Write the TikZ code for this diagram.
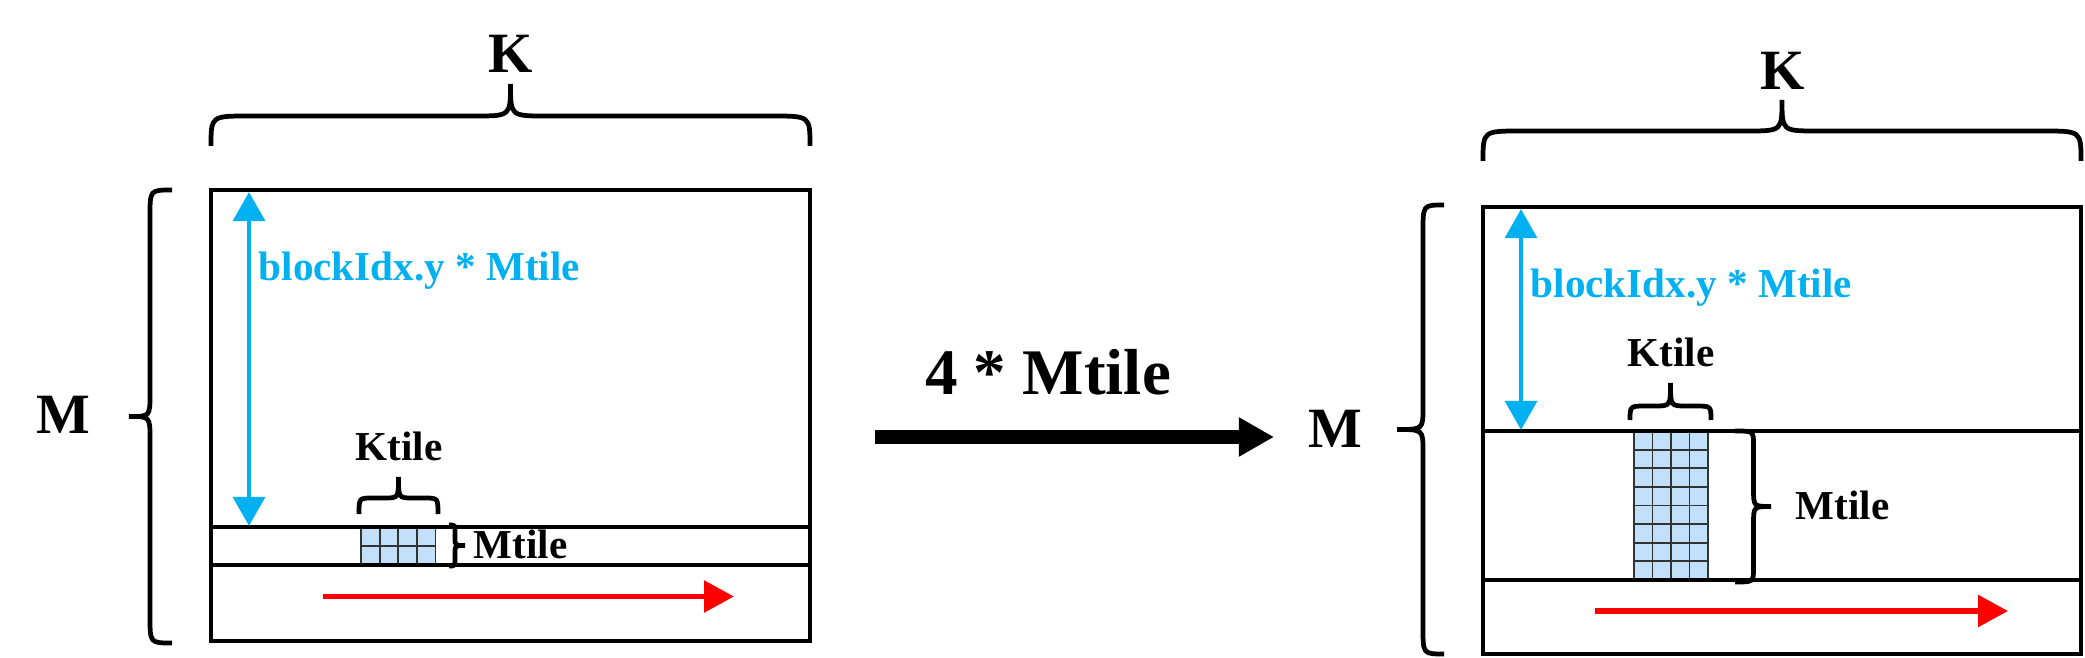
\documentclass[tikz,border=0pt]{standalone}
\usepackage{fontspec}
\setmainfont{Liberation Serif}
\usetikzlibrary{arrows.meta}
\definecolor{cblue}{RGB}{0,176,240}
\definecolor{cred}{RGB}{255,0,0}
\definecolor{tilefill}{RGB}{194,224,250}
\begin{document}
\begin{tikzpicture}[x=0.01cm,y=-0.01cm,
  frame/.style={draw=black,line width=1.35pt},
  brc/.style={draw=black,line width=1.35pt},
  gridln/.style={draw=black!80,line width=0.55pt},
  smalltxt/.style={inner sep=0pt,font=\fontsize{11.7}{14}\selectfont\bfseries},
  bigtxt/.style={inner sep=0pt,font=\fontsize{16.2}{19}\selectfont\bfseries},
  arrtxt/.style={inner sep=0pt,font=\fontsize{18.5}{22}\selectfont\bfseries},
  bluearr/.style={draw=cblue,line width=1.35pt,{Triangle[width=9pt,length=8.3pt]}-{Triangle[width=9pt,length=8.3pt]}},
  redarr/.style={draw=cred,line width=1.6pt,-{Triangle[width=8.8pt,length=8.5pt]}},
  bigarr/.style={draw=black,line width=3.7pt,-{Triangle[width=10.5pt,length=10pt]}}]
\useasboundingbox (0,0) rectangle (2085,658);

% ---------------- left matrix ----------------
\fill[tilefill] (361,528) rectangle (435.5,564);
\foreach \i in {0,...,4} \draw[gridln] ({361+\i*18.625},528) -- ({361+\i*18.625},564);
\foreach \j in {0,...,2} \draw[gridln] (361,{528+\j*18}) -- (435.5,{528+\j*18});
\draw[frame] (211,190) rectangle (810,641);
\draw[frame] (211,527) -- (810,527);
\draw[frame] (211,565) -- (810,565);

% K brace (left)
\draw[brc] (211,146) .. controls (211,116) .. (249,116) -- (475.5,116) .. controls (510.5,116) .. (510.5,84)
  .. controls (510.5,116) .. (545.5,116) -- (772,116) .. controls (810,116) .. (810,146);
\node[bigtxt,anchor=base] (kL) at (511,73) {K};

% M brace (left)
\draw[brc] (172,190) .. controls (150,190) .. (150,216) -- (150,394.5) .. controls (150,416.5) .. (129,416.5)
  .. controls (150,416.5) .. (150,438.5) -- (150,617) .. controls (150,643) .. (172,643);
\node[bigtxt,anchor=base] (mL) at (63.5,433) {M};

% blue arrow + label (left)
\coordinate (la1) at (249,192);
\coordinate (la2) at (249,526);
\draw[bluearr] (la1) -- (la2);
\node[smalltxt,text=cblue,anchor=base west] (bL) at (258,281) {blockIdx.y * Mtile};

% Ktile brace (left)
\draw[brc] (359,514) .. controls (359,498) .. (373,498) -- (384.5,498) .. controls (398.5,498) .. (398.5,477)
  .. controls (398.5,498) .. (412.5,498) -- (424,498) .. controls (438,498) .. (438,514);
\node[smalltxt,anchor=base] (ktL) at (399,461) {Ktile};

% Mtile brace (left)
\draw[brc] (449,525) .. controls (455,525) .. (455,533) -- (455,538) .. controls (455,545.5) .. (465,545.5)
  .. controls (455,545.5) .. (455,553) -- (455,558) .. controls (455,566) .. (449,566);
\node[smalltxt,anchor=base west] (mtL) at (473,558) {Mtile};

% red arrow (left)
\coordinate (ra1) at (323,596.5);
\coordinate (ra2) at (734,596.5);
\draw[redarr] (ra1) -- (ra2);

% ---------------- middle ----------------
\node[arrtxt,anchor=base] (mid) at (1048,395) {4 * Mtile};
\coordinate (ma1) at (875,437);
\coordinate (ma2) at (1274,437);
\draw[bigarr] (ma1) -- (ma2);

% ---------------- right matrix ----------------
\fill[tilefill] (1634,431) rectangle (1708,580);
\foreach \i in {0,...,4} \draw[gridln] ({1634+\i*18.5},431) -- ({1634+\i*18.5},580);
\foreach \j in {0,...,8} \draw[gridln] (1634,{431+\j*18.625}) -- (1708,{431+\j*18.625});
\draw[frame] (1483,207) rectangle (2081,654);
\draw[frame] (1483,431) -- (2081,431);
\draw[frame] (1483,580) -- (2081,580);

% K brace (right)
\draw[brc] (1483,161) .. controls (1483,131) .. (1521,131) -- (1747,131) .. controls (1782,131) .. (1782,100)
  .. controls (1782,131) .. (1817,131) -- (2043,131) .. controls (2081,131) .. (2081,161);
\node[bigtxt,anchor=base] (kR) at (1783,90) {K};

% M brace (right)
\draw[brc] (1444,205) .. controls (1423,205) .. (1423,231) -- (1423,407.5) .. controls (1423,429.5) .. (1397,429.5)
  .. controls (1423,429.5) .. (1423,451.5) -- (1423,628) .. controls (1423,654) .. (1444,654);
\node[bigtxt,anchor=base] (mR) at (1335,448) {M};

% blue arrow + label (right)
\coordinate (lb1) at (1521,209);
\coordinate (lb2) at (1521,430);
\draw[bluearr] (lb1) -- (lb2);
\node[smalltxt,text=cblue,anchor=base west] (bR) at (1530,298) {blockIdx.y * Mtile};

% Ktile brace (right)
\draw[brc] (1630,420) .. controls (1630,406) .. (1646,406) -- (1654.5,406) .. controls (1670.5,406) .. (1670.5,383)
  .. controls (1670.5,406) .. (1686.5,406) -- (1695,406) .. controls (1711,406) .. (1711,420);
\node[smalltxt,anchor=base] (ktR) at (1671,367) {Ktile};

% Mtile brace (right)
\draw[brc] (1735,431) .. controls (1753.5,431) .. (1753.5,445) -- (1753.5,489) .. controls (1753.5,506.5) .. (1771,506.5)
  .. controls (1753.5,506.5) .. (1753.5,524) -- (1753.5,568) .. controls (1753.5,582) .. (1735,582);
\node[smalltxt,anchor=base west] (mtR) at (1795,519) {Mtile};

% red arrow (right)
\coordinate (rb1) at (1595,611);
\coordinate (rb2) at (2008,611);
\draw[redarr] (rb1) -- (rb2);
\end{tikzpicture}
\end{document}
